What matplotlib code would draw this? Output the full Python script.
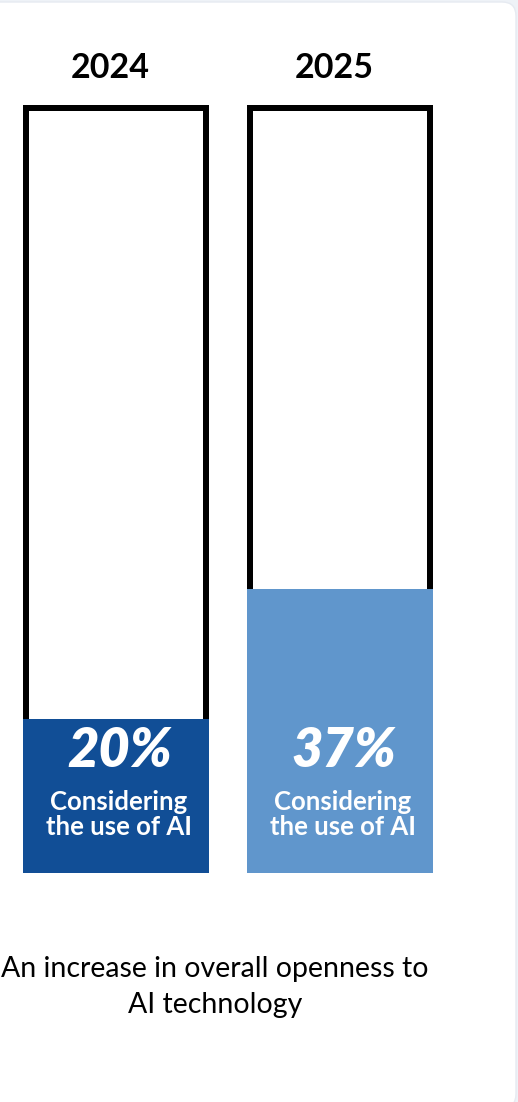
import matplotlib.pyplot as plt
from matplotlib.patches import FancyBboxPatch
from matplotlib.transforms import IdentityTransform

plt.rcParams['font.family'] = ['Lato', 'DejaVu Sans']

years = ["2024", "2025"]
shares = [20, 37]
fill_colors = ["#114e96", "#6096cc"]
bar_label = "Considering\nthe use of AI"
caption = "An increase in overall openness to\nAI technology"

W, H = 518, 1102
fig = plt.figure(figsize=(W / 100, H / 100), dpi=100)
fig.patch.set_facecolor("#eef2f7")

# white card with rounded corners (pixel coordinates), kept behind the axes
card = FancyBboxPatch((-30, -6), W - 2 + 30, H - 2 + 6,
                      boxstyle="round,pad=0,rounding_size=14",
                      transform=IdentityTransform(), facecolor="white",
                      edgecolor="#e6eaf1", linewidth=1, zorder=-5)
fig.patches.append(card)

# axes covering the two bar outlines
left, right, top, bottom = 23, 433, 105, 873
ax = fig.add_axes([left / W, (H - bottom) / H, (right - left) / W, (bottom - top) / H])
ax.set_xlim(-0.415, 1.415)
ax.set_ylim(0, 100)
ax.axis("off")

bar_w = 0.83
line_px = 6
px_x = (right - left) / 1.83
px_y = (bottom - top) / 100.0
x = list(range(len(years)))

# empty outlines
ax.bar(x, 100 - line_px / 2 / px_y, width=bar_w - line_px / px_x,
       facecolor="white", edgecolor="black", linewidth=line_px * 0.72,
       zorder=1)
# filled portion
ax.bar(x, shares, width=bar_w, color=fill_colors, linewidth=0, zorder=2)

for i, (yr, val) in enumerate(zip(years, shares)):
    ax.annotate(yr, xy=(i, 100), xytext=(-4, 27), textcoords="offset points",
                ha="center", va="center", fontsize=24.5, fontweight="bold",
                color="black", annotation_clip=False)
    ax.annotate(f"{val}%", xy=(i, 0), xytext=(3, 88), textcoords="offset points",
                ha="center", va="center", fontsize=39, fontweight="heavy",
                style="italic", color="white", zorder=3)
    ax.annotate(bar_label, xy=(i, 0), xytext=(2, 42), textcoords="offset points",
                ha="center", va="center", fontsize=18.5, fontweight="bold",
                color="white", linespacing=1.03, zorder=3)

fig.text(215 / W, 1 - 987 / H, caption, ha="center", va="center",
         fontsize=20.5, color="black", linespacing=1.5)

fig.savefig("out.png", dpi=100, facecolor=fig.get_facecolor())
